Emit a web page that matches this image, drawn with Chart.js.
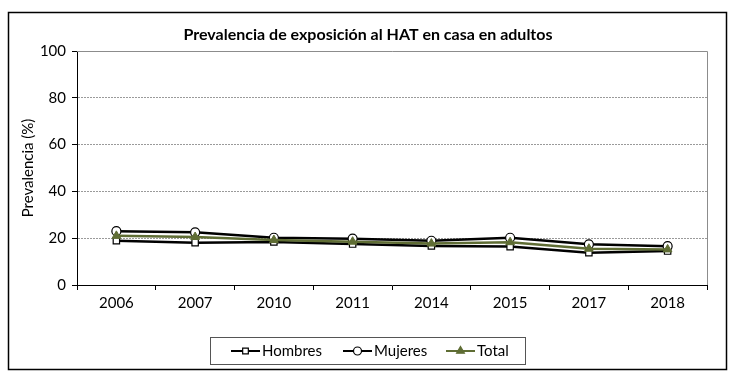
<!DOCTYPE html>
<html>
<head>
<meta charset="utf-8">
<script src="https://cdn.jsdelivr.net/npm/chart.js@4.4.1/dist/chart.umd.min.js"></script>
<style>
  html, body { margin: 0; padding: 0; background: #fff; }
  #wrap { width: 738px; height: 384px; position: relative; }
</style>
</head>
<body>
<div id="wrap"><canvas id="chart" width="738" height="384"></canvas></div>
<script>
const years = ['2006', '2007', '2010', '2011', '2014', '2015', '2017', '2018'];
const hombres = [18.9, 18.1, 18.4, 17.5, 16.7, 16.4, 13.8, 14.5];
const mujeres = [23.0, 22.5, 20.2, 19.8, 18.9, 20.2, 17.4, 16.6];
const total = [21.0, 20.5, 19.2, 18.5, 17.7, 18.3, 15.5, 15.2];
const yTicks = [0, 20, 40, 60, 80, 100];

const FONT = 'Lato, "Open Sans", sans-serif';
const OLIVE = '#5f6d34';

// frame, title, plot border and legend drawn by hand
const decor = {
    id: 'decor',
    beforeDraw(chart) {
        const ctx = chart.ctx;
        ctx.save();
        ctx.fillStyle = '#fff';
        ctx.fillRect(0, 0, chart.width, chart.height);
        ctx.restore();
    },
    beforeDatasetsDraw(chart) {
        const ctx = chart.ctx;
        const a = chart.chartArea;
        ctx.save();
        ctx.strokeStyle = '#8c8c8c';
        ctx.lineWidth = 1;
        ctx.beginPath();
        ctx.moveTo(a.left, a.top + 0.5);
        ctx.lineTo(a.right + 0.5, a.top + 0.5);
        ctx.lineTo(a.right + 0.5, a.bottom);
        ctx.stroke();
        ctx.restore();
    },
    afterDraw(chart) {
        const ctx = chart.ctx;
        ctx.save();
        // outer frame
        ctx.strokeStyle = '#000';
        ctx.lineWidth = 1.5;
        ctx.strokeRect(8.5, 12.5, 718, 357);
        // title
        ctx.fillStyle = '#000';
        ctx.font = 'bold 16px ' + FONT;
        ctx.textAlign = 'center';
        ctx.textBaseline = 'middle';
        ctx.fillText('Prevalencia de exposición al HAT en casa en adultos', 368, 35);
        // legend
        ctx.strokeStyle = '#555';
        ctx.lineWidth = 1;
        ctx.strokeRect(210.5, 337.5, 315, 27);
        const items = [
            { label: 'Hombres', x: 231, ds: chart.data.datasets[0] },
            { label: 'Mujeres', x: 343, ds: chart.data.datasets[1] },
            { label: 'Total', x: 446, ds: chart.data.datasets[2] }
        ];
        const y = 351;
        items.forEach(it => {
            ctx.strokeStyle = it.ds.borderColor;
            ctx.lineWidth = 2;
            ctx.beginPath();
            ctx.moveTo(it.x, y);
            ctx.lineTo(it.x + 29, y);
            ctx.stroke();
            ctx.fillStyle = it.ds.pointBackgroundColor;
            ctx.strokeStyle = it.ds.pointBorderColor;
            ctx.lineWidth = 1.2;
            Chart.helpers.drawPoint(ctx, {
                pointStyle: it.ds.pointStyle,
                radius: it.ds.pointRadius - 0.5,
                borderWidth: 1.2,
                rotation: 0
            }, it.x + 14.5, y);
            ctx.fillStyle = '#000';
            ctx.font = '15px ' + FONT;
            ctx.textAlign = 'left';
            ctx.fillText(it.label, it.x + 31, y);
        });
        ctx.restore();
    }
};

const ctx = document.getElementById('chart').getContext('2d');
const myChart = new Chart(ctx, {
    type: 'line',
    data: {
        labels: years,
        datasets: [{
            label: 'Hombres',
            data: hombres,
            borderColor: '#000',
            backgroundColor: '#fff',
            borderWidth: 2.5,
            pointStyle: 'rect',
            pointRadius: 4.5,
            pointBorderWidth: 1.2,
            pointBorderColor: '#000',
            pointBackgroundColor: '#fff',
            tension: 0,
            order: 2
        }, {
            label: 'Mujeres',
            data: mujeres,
            borderColor: '#000',
            backgroundColor: '#fff',
            borderWidth: 2.5,
            pointStyle: 'circle',
            pointRadius: 4.5,
            pointBorderWidth: 1.2,
            pointBorderColor: '#000',
            pointBackgroundColor: '#fff',
            tension: 0,
            order: 1
        }, {
            label: 'Total',
            data: total,
            borderColor: OLIVE,
            backgroundColor: OLIVE,
            borderWidth: 2.5,
            pointStyle: 'triangle',
            pointRadius: 5,
            pointBorderWidth: 1,
            pointBorderColor: OLIVE,
            pointBackgroundColor: OLIVE,
            tension: 0,
            order: 0
        }]
    },
    options: {
        responsive: false,
        animation: false,
        layout: { padding: { top: 51, right: 31, left: 0, bottom: 0 } },
        plugins: {
            legend: { display: false },
            title: { display: false },
            tooltip: { enabled: false }
        },
        scales: {
            x: {
                offset: true,
                grid: {
                    offset: true,
                    drawOnChartArea: false,
                    tickLength: 5,
                    tickColor: '#000'
                },
                border: { color: '#000', width: 1 },
                ticks: {
                    color: '#000',
                    font: { family: FONT, size: 15 },
                    padding: 4
                },
                afterFit: (scale) => { scale.height = 99; }
            },
            y: {
                min: 0,
                max: 100,
                afterBuildTicks: (scale) => { scale.ticks = yTicks.map(v => ({ value: v })); },
                grid: {
                    color: (c) => (c.tick && (c.tick.value === 0 || c.tick.value === 100)) ? 'rgba(0,0,0,0)' : '#9a9a9a',
                    tickColor: '#000',
                    tickLength: 5,
                    lineWidth: 1
                },
                border: { color: '#000', width: 1, dash: [2, 1] },
                ticks: {
                    color: '#000',
                    font: { family: FONT, size: 15 },
                    padding: 6
                },
                title: {
                    display: true,
                    text: 'Prevalencia (%)',
                    color: '#000',
                    font: { family: FONT, size: 15 },
                    padding: { top: 19, bottom: 0 }
                },
                afterFit: (scale) => { scale.width = 77; }
            }
        }
    },
    plugins: [decor]
});
</script>
</body>
</html>
